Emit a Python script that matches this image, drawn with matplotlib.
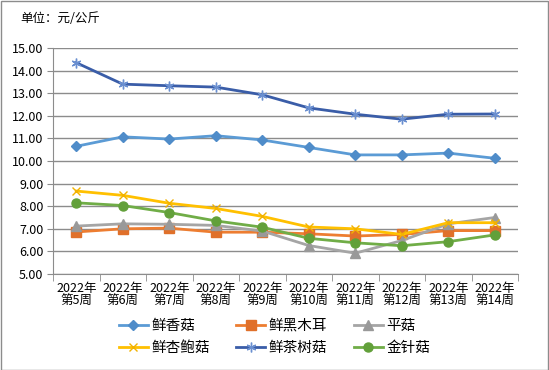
import numpy as np
from matplotlib import pyplot as plt
from matplotlib.patches import Rectangle

plt.rcParams['font.family'] = ['Noto Sans CJK SC', 'DejaVu Sans']

weeks = ['2022年\n第5周', '2022年\n第6周', '2022年\n第7周', '2022年\n第8周', '2022年\n第9周',
         '2022年\n第10周', '2022年\n第11周', '2022年\n第12周', '2022年\n第13周', '2022年\n第14周']

xianggu = [10.65, 11.07, 10.97, 11.12, 10.93, 10.60, 10.27, 10.27, 10.35, 10.12]
heimuer = [6.86, 7.00, 7.03, 6.85, 6.85, 6.78, 6.68, 6.75, 6.92, 6.92]
pinggu = [7.12, 7.22, 7.20, 7.15, 6.90, 6.26, 5.92, 6.48, 7.22, 7.50]
xingbaogu = [8.67, 8.48, 8.13, 7.90, 7.55, 7.08, 7.00, 6.75, 7.27, 7.27]
chashugu = [14.35, 13.40, 13.33, 13.27, 12.93, 12.35, 12.07, 11.85, 12.07, 12.08]
jinzhengu = [8.15, 8.03, 7.72, 7.35, 7.07, 6.58, 6.38, 6.25, 6.43, 6.73]

fig = plt.figure(figsize=(5.49, 3.70), dpi=100)
ax = fig.add_axes([53/549, 1-274/370, 465/549, 226/370])

x = np.arange(len(weeks))
ax.plot(x, xianggu, color='#5B9BD5', lw=2, marker='D', ms=5, mfc='#4F8CC9', mec='#4F8CC9', label='鲜香菇')
ax.plot(x, heimuer, color='#ED7D31', lw=2, marker='s', ms=6.5, mfc='#E0702A', mec='#E0702A', label='鲜黑木耳')
ax.plot(x, pinggu, color='#A5A5A5', lw=2, marker='^', ms=6.5, mfc='#999999', mec='#999999', label='平菇')
ax.plot(x, xingbaogu, color='#FFC000', lw=2, marker='x', ms=6, mew=1, mec='#F2B200', label='鲜杏鲍菇')
ax.plot(x, chashugu, color='#3A5DA8', lw=2, marker=(6, 2, 0), ms=7, mew=1, mec='#6A8FD0', label='鲜茶树菇')
ax.plot(x, jinzhengu, color='#70AD47', lw=2, marker='o', ms=6.5, mfc='#62A03A', mec='#62A03A', label='金针菇')

ax.set_xlim(-0.5, len(weeks) - 0.5)
ax.set_ylim(5, 15)
ax.set_yticks(np.arange(5, 15.5, 1))
ax.set_yticklabels([f'{v:.2f}' for v in np.arange(5, 15.5, 1)], fontsize=9)
ax.set_xticks(x)
ax.set_xticklabels(weeks, fontsize=9, linespacing=1.0)
ax.set_xticks(np.arange(-0.5, len(weeks), 1), minor=True)
ax.tick_params(axis='x', which='major', length=0, pad=6)
ax.tick_params(axis='x', which='minor', length=5, color='#8C8C8C', direction='out')
ax.tick_params(axis='y', length=4, color='#8C8C8C', direction='out', pad=3)
ax.grid(axis='y', color='#8C8C8C', lw=1)
ax.set_axisbelow(True)
for s in ['top', 'right']:
    ax.spines[s].set_visible(False)
ax.spines['left'].set_color('#8C8C8C')
ax.spines['bottom'].set_color('#8C8C8C')

fig.text(20/549, 1-18/370, '单位：元/公斤', fontsize=9, va='center', ha='left')

# legend is filled row by row in the reference
handles, labels = ax.get_legend_handles_labels()
order = [0, 3, 1, 4, 2, 5]
fig.legend([handles[i] for i in order], [labels[i] for i in order],
           loc='center', bbox_to_anchor=(0.5, 1-337/370), ncol=3, frameon=False,
           fontsize=10.5, handlelength=2.0, handletextpad=0.25, columnspacing=1.8,
           labelspacing=0.6, borderpad=0)

fig.patches.append(Rectangle((0.001, 0.001), 0.997, 0.997, transform=fig.transFigure,
                             fill=False, edgecolor='#8C8C8C', lw=1))

plt.savefig('out.png', dpi=100)
